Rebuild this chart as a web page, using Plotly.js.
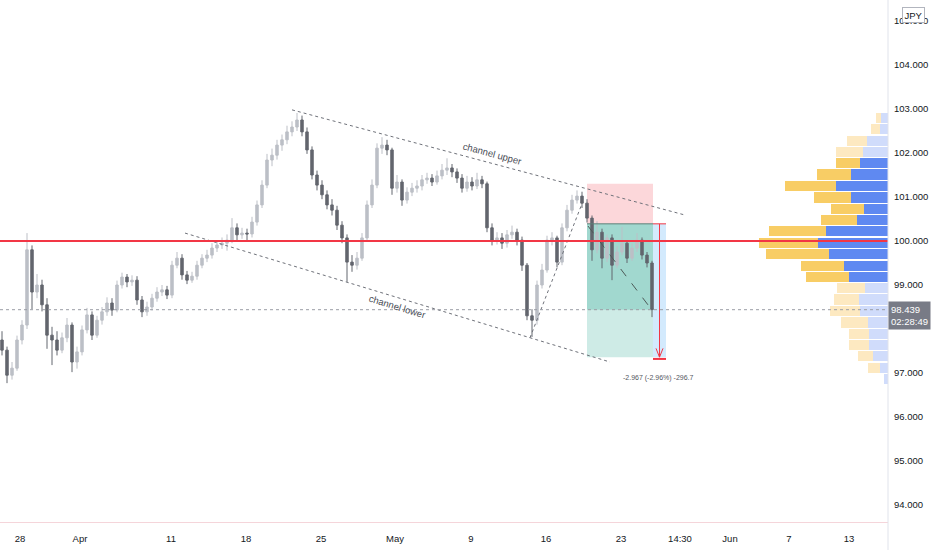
<!DOCTYPE html>
<html>
<head>
<meta charset="utf-8">
<script src="https://cdn.plot.ly/plotly-3.0.1.min.js"></script>
<style>
  html, body { margin: 0; padding: 0; background: #fff; }
  #chart { width: 932px; height: 550px; }
</style>
</head>
<body>
<div id="chart"></div>
<script>
// 8h-ish candles, left to right
const opens = [97.75,97.52,96.95,97.11,97.75,98.09,99.80,98.84,99.00,98.55,
  97.86,97.75,97.52,97.80,98.09,97.25,97.48,97.98,98.32,97.86,
  98.20,98.39,98.59,98.43,99.00,99.18,99.07,99.11,98.66,98.39,
  98.50,98.70,98.84,98.89,98.77,99.45,99.61,99.23,99.11,99.20,
  99.45,99.61,99.68,99.84,99.91,99.95,100.02,100.30,100.14,100.18,
  100.16,100.43,100.82,101.27,101.84,101.95,102.18,102.30,102.48,102.59,
  102.75,102.48,102.07,101.50,101.27,101.05,100.82,100.70,100.36,100.07,
  99.52,99.45,99.61,100.07,100.82,101.27,102.11,102.18,102.07,101.20,
  101.34,100.93,101.11,101.20,101.25,101.39,101.43,101.34,101.48,101.61,
  101.66,101.57,101.43,101.20,101.34,101.25,101.39,101.30,100.30,100.02,
  100.07,99.95,100.14,100.20,100.02,99.45,98.30,98.20,99.00,99.34,
  100.02,100.07,99.52,100.30,100.70,100.93,101.02,100.86,100.52,99.80,
  100.20,99.61,100.07,99.45,99.75,99.95,99.61,99.84,100.02,99.68,
  99.50];
const closes = [97.52,96.95,97.11,97.75,98.09,99.80,98.84,99.00,98.55,97.86,
  97.75,97.52,97.80,98.09,97.25,97.48,97.98,98.32,97.86,98.20,
  98.39,98.59,98.43,99.00,99.18,99.07,99.11,98.66,98.39,98.50,
  98.70,98.84,98.89,98.77,99.45,99.61,99.23,99.11,99.20,99.45,
  99.61,99.68,99.84,99.91,99.95,100.02,100.30,100.14,100.18,100.16,
  100.43,100.82,101.27,101.84,101.95,102.18,102.30,102.48,102.59,102.75,
  102.48,102.07,101.50,101.27,101.05,100.82,100.70,100.36,100.07,99.52,
  99.45,99.61,100.07,100.82,101.27,102.11,102.18,102.07,101.20,101.34,
  100.93,101.11,101.20,101.25,101.39,101.43,101.34,101.48,101.61,101.66,
  101.57,101.43,101.20,101.34,101.25,101.39,101.30,100.30,100.02,100.07,
  99.95,100.14,100.20,100.02,99.45,98.30,98.20,99.00,99.34,100.02,
  100.07,99.52,100.30,100.70,100.93,101.02,100.86,100.52,99.80,100.20,
  99.61,100.07,99.45,99.75,99.95,99.61,99.84,100.02,99.68,99.50,
  98.44];
const highs = [97.95,97.60,97.25,97.85,98.20,100.18,99.90,99.25,99.12,98.70,
  98.05,97.95,97.92,98.25,98.15,97.60,98.08,98.48,98.40,98.30,
  98.50,98.72,98.70,99.10,99.28,99.25,99.22,99.20,98.75,98.62,
  98.80,98.95,99.00,98.98,99.55,99.75,99.70,99.32,99.30,99.55,
  99.70,99.80,99.95,100.02,100.08,100.15,100.52,100.40,100.30,100.28,
  100.55,100.92,101.38,101.98,102.10,102.30,102.42,102.62,102.72,102.91,
  102.85,102.58,102.15,101.60,101.38,101.15,100.95,100.80,100.45,100.15,
  99.68,99.75,100.18,100.92,101.40,102.22,102.36,102.30,102.12,101.50,
  101.40,101.22,101.32,101.38,101.50,101.55,101.52,101.60,101.75,101.88,
  101.75,101.65,101.52,101.48,101.45,101.55,101.48,101.35,100.40,100.20,
  100.18,100.25,100.35,100.28,100.10,99.50,98.45,99.10,99.48,100.12,
  100.20,100.12,100.40,100.82,101.05,101.15,101.12,100.95,100.58,100.45,
  100.28,100.15,100.15,99.88,100.32,100.02,99.95,100.18,100.08,99.75,
  99.55];
const lows = [97.40,96.77,96.85,97.05,97.65,98.00,98.45,98.70,98.40,97.55,
  97.18,97.40,97.45,97.70,97.02,97.10,97.40,97.90,97.75,97.80,
  98.10,98.30,98.30,98.38,98.92,98.95,98.98,98.55,98.27,98.30,
  98.42,98.62,98.75,98.68,98.70,99.38,99.12,99.02,99.05,99.12,
  99.38,99.52,99.60,99.75,99.82,99.78,99.95,100.02,100.05,100.02,
  100.08,100.35,100.75,101.20,101.70,101.85,102.05,102.20,102.38,102.50,
  102.38,101.98,101.40,101.15,100.95,100.72,100.58,100.25,99.95,99.07,
  99.30,99.35,99.55,100.00,100.75,101.20,101.98,101.95,101.05,101.10,
  100.80,100.85,101.02,101.10,101.15,101.30,101.25,101.28,101.40,101.50,
  101.45,101.32,101.10,101.12,101.15,101.18,101.20,100.20,99.90,99.92,
  99.82,99.85,100.05,99.90,99.32,98.20,97.82,98.10,98.92,99.28,
  99.90,99.40,99.45,100.22,100.62,100.85,100.75,100.42,99.55,99.72,
  99.38,99.52,99.11,99.38,99.68,99.50,99.55,99.75,99.58,99.40,
  98.27];

// time axis
const tickPos = [3.6,15.6,33.8,48.8,63.8,78.6,93.8,108.8,123.8,135.6,145.6,157.4,169.4];
const tickText = ['28','Apr','11','18','25','May','9','16','23','14:30','Jun','7','13'];

// price axis (98.000 sits under the last-price label)
const priceTicks = [94, 95, 96, 97, 99, 100, 101, 102, 103, 104, 105];

// volume profile (right side), rows from top to bottom
const vpPrice = [102.80,102.54,102.28,102.03,101.77,101.51,101.25,100.99,100.73,100.48,
  100.22,99.96,99.70,99.44,99.18,98.93,98.67,98.41,98.15,97.89,97.63,97.38,97.12,96.86];
const vpUp = [7,8,21,25,28,37,52,37,24,31,62,70,59,44,39,23,29,28,20,19,19,15,8,4];
const vpDown = [5,9,20,27,24,34,51,37,33,36,57,59,63,43,43,28,25,30,27,20,20,15,12,0];
const vpValueArea = [0,0,0,0,1,1,1,1,1,1,1,1,1,1,1,0,0,0,0,0,0,0,0,0];

// drawings: [index, price]
const channelUpper = [[58, 102.98], [136.6, 100.59]];
const channelLower = [[36.6, 100.18], [121.6, 97.25]];
const rallyLine = [[105.6, 97.80], [116, 100.85]];
const levelPrice = 100.0;
const lastPrice = 98.439;
const pos = { x0: 117, x1: 130.2, x2: 132.8, entry: 100.39, stop: 101.30, target: 97.36 };

const idx = closes.map((_, i) => i);

const candles = {
  type: 'candlestick',
  x: idx, open: opens, high: highs, low: lows, close: closes,
  increasing: { line: { color: '#bcbfc6', width: 1 }, fillcolor: '#bcbfc6' },
  decreasing: { line: { color: '#63666e', width: 1 }, fillcolor: '#63666e' },
  whiskerwidth: 0,
  hoverinfo: 'skip'
};

const upColors = vpValueArea.map(v => v ? '#5f89f1' : '#d0dcfb');
const downColors = vpValueArea.map(v => v ? '#f8cd65' : '#fde9c1');

const vpUpTrace = {
  type: 'bar', orientation: 'h', x: vpUp, y: vpPrice, xaxis: 'x2', yaxis: 'y',
  width: 0.232, marker: { color: upColors }, hoverinfo: 'skip'
};
const vpDownTrace = {
  type: 'bar', orientation: 'h', x: vpDown, y: vpPrice, xaxis: 'x2', yaxis: 'y',
  width: 0.232, marker: { color: downColors }, hoverinfo: 'skip'
};

const dotted = { color: '#6f727a', width: 1, dash: 'dot' };
function seg(p, line, layer) {
  return { type: 'line', xref: 'x', yref: 'y', x0: p[0][0], y0: p[0][1], x1: p[1][0], y1: p[1][1], line: line, layer: layer || 'above' };
}

const shapes = [
  // position tool
  { type: 'rect', xref: 'x', yref: 'y', x0: pos.x0, x1: pos.x1, y0: pos.entry, y1: pos.stop,
    fillcolor: 'rgba(242,54,69,0.2)', line: { width: 0 }, layer: 'below' },
  { type: 'rect', xref: 'x', yref: 'y', x0: pos.x0, x1: pos.x1, y0: lastPrice, y1: pos.entry,
    fillcolor: 'rgba(8,153,129,0.38)', line: { width: 0 }, layer: 'below' },
  { type: 'rect', xref: 'x', yref: 'y', x0: pos.x0, x1: pos.x1, y0: pos.target, y1: lastPrice,
    fillcolor: 'rgba(8,153,129,0.2)', line: { width: 0 }, layer: 'below' },
  { type: 'rect', xref: 'x', yref: 'y', x0: pos.x1, x1: pos.x2, y0: pos.target, y1: pos.entry,
    fillcolor: 'rgba(33,150,243,0.2)', line: { width: 0 }, layer: 'below' },
  { type: 'line', xref: 'x', yref: 'y', x0: pos.x0, x1: pos.x1, y0: pos.entry, y1: pos.entry,
    line: { color: '#5d7f78', width: 1 }, layer: 'above' },
  { type: 'line', xref: 'x', yref: 'y', x0: pos.x1, x1: pos.x2, y0: pos.entry, y1: pos.entry,
    line: { color: '#f23645', width: 1 }, layer: 'above' },
  { type: 'line', xref: 'x', yref: 'y', x0: pos.x1, x1: pos.x2, y0: pos.target - 0.04, y1: pos.target - 0.04,
    line: { color: '#f23645', width: 2 }, layer: 'above' },
  { type: 'line', xref: 'x', yref: 'y', x0: (pos.x1 + pos.x2) / 2, x1: (pos.x1 + pos.x2) / 2, y0: pos.entry, y1: pos.target,
    line: { color: '#f23645', width: 1 }, layer: 'above' },
  { type: 'path', xref: 'x', yref: 'y',
    path: 'M ' + ((pos.x1 + pos.x2) / 2 - 0.7) + ' ' + (pos.target + 0.2) + ' L ' + ((pos.x1 + pos.x2) / 2) + ' ' + pos.target +
          ' L ' + ((pos.x1 + pos.x2) / 2 + 0.7) + ' ' + (pos.target + 0.2),
    line: { color: '#f23645', width: 1 }, layer: 'above' },
  { type: 'line', xref: 'x', yref: 'y', x0: pos.x0 + 0.2, y0: pos.entry - 0.05, x1: closes.length - 1.2, y1: lastPrice + 0.02,
    line: { color: '#4d5a58', width: 1, dash: 'dash' }, layer: 'above' },
  // channel and rally lines
  seg(channelUpper, dotted),
  seg(channelLower, dotted),
  seg(rallyLine, dotted),
  // last price line
  { type: 'line', xref: 'paper', yref: 'y', x0: 0, x1: 1, y0: lastPrice, y1: lastPrice,
    line: { color: '#9a9da5', width: 1, dash: 'dot' }, layer: 'above' },
  // horizontal level
  { type: 'line', xref: 'paper', yref: 'y', x0: 0, x1: 1, y0: levelPrice, y1: levelPrice,
    line: { color: '#f23645', width: 2 }, layer: 'above' },
  // price scale separator
  { type: 'line', xref: 'paper', yref: 'paper', x0: 1, x1: 1, y0: -28 / 522, y1: 1,
    line: { color: '#e0e3eb', width: 1 }, layer: 'above' }
];

const txtFamily = 'Liberation Sans, Arial, sans-serif';

const annotations = [
  { xref: 'x', yref: 'y', x: 98, y: 101.98, text: 'channel upper', showarrow: false, textangle: 15,
    font: { family: txtFamily, size: 9.5, color: '#4a4d55' } },
  { xref: 'x', yref: 'y', x: 79, y: 98.52, text: 'channel lower', showarrow: false, textangle: 17,
    font: { family: txtFamily, size: 9.5, color: '#4a4d55' } },
  { xref: 'x', yref: 'y', x: 131.2, y: 96.89, text: '-2.967 (-2.96%) -296.7', showarrow: false,
    font: { family: txtFamily, size: 7, color: '#555861' } },
  { xref: 'paper', yref: 'y', x: 1, xanchor: 'left', xshift: 0, y: lastPrice, yanchor: 'middle', yshift: -6,
    text: '98.439<br>02:28:49', showarrow: false, align: 'left', bgcolor: '#787b86', borderpad: 2,
    font: { family: txtFamily, size: 9.5, color: '#ffffff' } },
  { xref: 'paper', yref: 'paper', x: 1, xanchor: 'left', xshift: 14, y: 1, yanchor: 'top', yshift: -7,
    text: 'JPY', showarrow: false, bgcolor: '#ffffff', bordercolor: '#b2b5be', borderwidth: 1, borderpad: 1.5,
    font: { family: txtFamily, size: 9.5, color: '#131722' } }
];

const axisFont = { family: txtFamily, size: 9.5, color: '#131722' };

const layout = {
  width: 932, height: 550,
  margin: { l: 0, r: 44, t: 0, b: 28 },
  paper_bgcolor: '#ffffff', plot_bgcolor: '#ffffff',
  showlegend: false, dragmode: false, barmode: 'stack', bargap: 0,
  xaxis: {
    range: [-0.4, 177.2], showgrid: false, zeroline: false, fixedrange: true,
    tickmode: 'array', tickvals: tickPos, ticktext: tickText, ticks: '',
    ticklabelstandoff: 8, tickfont: axisFont,
    showline: true, linecolor: '#f5d5da', linewidth: 1,
    rangeslider: { visible: false }
  },
  xaxis2: { overlaying: 'x', range: [888, 0], visible: false, anchor: 'y', fixedrange: true },
  yaxis: {
    side: 'right', range: [93.614, 105.477], tickmode: 'array', tickvals: priceTicks, tickformat: '.3f',
    showgrid: false, zeroline: false, fixedrange: true, ticks: '',
    ticklabelstandoff: 5, tickfont: axisFont, showline: false
  },
  shapes: shapes,
  annotations: annotations
};

Plotly.newPlot('chart', [candles, vpUpTrace, vpDownTrace], layout, { staticPlot: true, displayModeBar: false });
</script>
</body>
</html>
